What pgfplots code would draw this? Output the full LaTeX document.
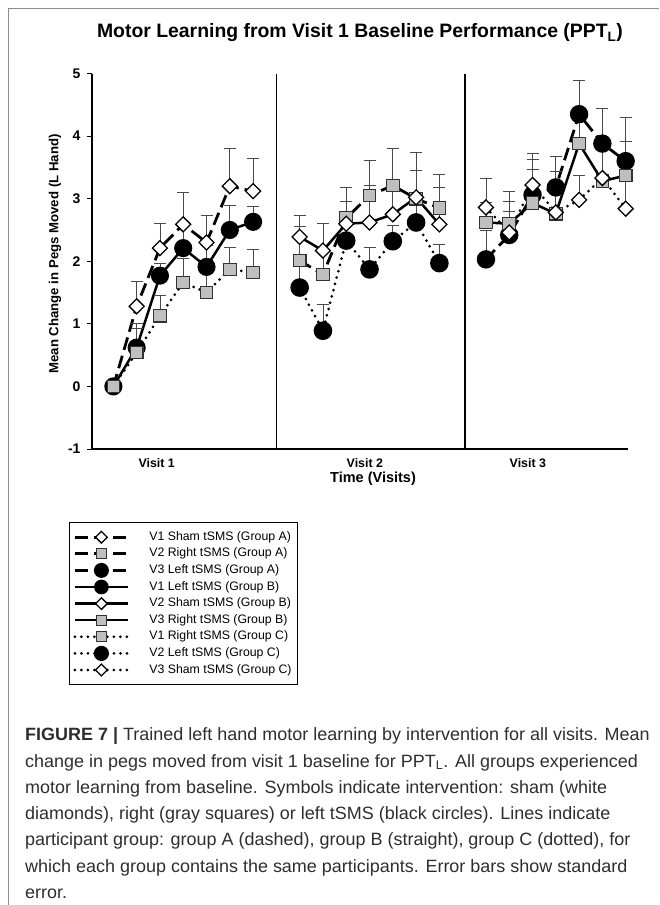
\documentclass[border=0pt]{standalone}
\usepackage{fontspec}
\setmainfont{Liberation Sans}
\usepackage{pgfplots}
\pgfplotsset{compat=1.18}
\definecolor{sq}{HTML}{BFBFBF}
\definecolor{eb}{HTML}{4A4A4A}
\begin{document}
\begin{tikzpicture}
\path[use as bounding box] (0pt,0pt) rectangle (659pt,-905pt);
\draw[black!45, line width=1pt] (8pt,-905pt) -- (8pt,-8pt) -- (659pt,-8pt);
\begin{axis}[
  at={(92pt,-449pt)}, anchor=south west,
  scale only axis, width=536pt, height=375.5pt,
  xmin=-0.918, xmax=22.1, ymin=-1, ymax=5,
  axis x line=bottom, axis y line=left,
  axis line style={-, line width=2.2pt},
  ytick={-1,0,1,2,3,4,5},
  xtick={1.86,10.8,17.8},
  xticklabels={Visit 1,Visit 2,Visit 3},
  xtick style={draw=none},
  ytick style={line width=0.9pt, black},
  tick align=outside, major tick length=5pt,
  /pgf/number format/assume math mode=true,
  yticklabel style={font=\fontsize{14}{16}\selectfont\bfseries, xshift=-3pt},
  xticklabel style={font=\fontsize{12.4}{14}\selectfont\bfseries, yshift=-1pt},
  clip=false,
  error bars/y dir=plus, error bars/y explicit,
  error bars/error bar style={line width=0.8pt, draw=eb, solid},
  error bars/error mark options={rotate=90, mark size=6pt, line width=0.8pt, draw=eb, solid},
  legend style={at={(-0.0429,-0.1944)}, anchor=north west, draw=black, line width=0.8pt,
    font=\fontsize{12.3}{14}\selectfont, inner xsep=4pt, inner ysep=6.5pt,
    nodes={inner ysep=2.3pt, text height=9pt, text depth=3pt},
    column sep=18pt},
  legend cell align=left,
  legend image code/.code={\draw[mark repeat=2,mark phase=2,#1, every mark/.append style={scale=0.78}] plot coordinates {(0pt,0pt)(26.5pt,0pt)(53pt,0pt)};},
  dashA/.style={black, line width=2.8pt, dash pattern=on 13pt off 6pt},
  solB/.style={black, line width=2.5pt},
  dotC/.style={black, line width=3pt, line cap=round, dash pattern=on 0pt off 6.5pt},
  mdia/.style={mark=square*, mark options={solid, rotate=45, fill=white, draw=black, line width=1.3pt}, mark size=5.3pt},
  msq/.style={mark=square*, mark options={solid, fill=sq, draw=black!80, line width=1.1pt}, mark size=6.3pt},
  mcir/.style={mark=*, mark options={solid, fill=black, draw=black}, mark size=7.8pt},
]
% separators
\addplot[black, line width=1.2pt, forget plot, no markers] coordinates {(7,-1) (7,5)};
\addplot[black, line width=1.2pt, forget plot, no markers] coordinates {(15.1,-1) (15.1,5)};

% Visit 1: Group A dashed, sham (diamonds)
\addplot[dashA, mdia] coordinates {
 (0,0) +- (0,0)
 (1,1.28) +- (0,0.40)
 (2,2.21) +- (0,0.40)
 (3,2.59) +- (0,0.51)
 (4,2.30) +- (0,0.44)
 (5,3.20) +- (0,0.61)
 (6,3.12) +- (0,0.52)
};
\addlegendentry{V1 Sham tSMS (Group A)}
% Visit 2: Group A dashed, right (squares)
\addplot[dashA, msq] coordinates {
 (8,2.01) +- (0,0.55)
 (9,1.79) +- (0,0.40)
 (10,2.69) +- (0,0.49)
 (11,3.05) +- (0,0.56)
 (12,3.21) +- (0,0.59)
 (13,3.00) +- (0,0.74)
 (14,2.85) +- (0,0.54)
};
\addlegendentry{V2 Right tSMS (Group A)}
% Visit 3: Group A dashed, left (circles)
\addplot[dashA, mcir] coordinates {
 (16,2.03) +- (0,0.46)
 (17,2.42) +- (0,0.37)
 (18,3.06) +- (0,0.56)
 (19,3.18) +- (0,0.49)
 (20,4.35) +- (0,0.54)
 (21,3.88) +- (0,0.57)
 (22,3.60) +- (0,0.70)
};
\addlegendentry{V3 Left tSMS (Group A)}
% Visit 1: Group B solid, left (circles)
\addplot[solB, mcir] coordinates {
 (0,0) +- (0,0)
 (1,0.62) +- (0,0.38)
 (2,1.77) +- (0,0.20)
 (3,2.21) +- (0,0.35)
 (4,1.91) +- (0,0.35)
 (5,2.50) +- (0,0.40)
 (6,2.63) +- (0,0.24)
};
\addlegendentry{V1 Left tSMS (Group B)}
% Visit 2: Group B solid, sham (diamonds)
\addplot[solB, mdia] coordinates {
 (8,2.39) +- (0,0.35)
 (9,2.17) +- (0,0.43)
 (10,2.60) +- (0,0.35)
 (11,2.62) +- (0,0.59)
 (12,2.75) +- (0,0.45)
 (13,3.02) +- (0,0.43)
 (14,2.59) +- (0,0.59)
};
\addlegendentry{V2 Sham tSMS (Group B)}
% Visit 3: Group B solid, right (squares)
\addplot[solB, msq] coordinates {
 (16,2.62) +- (0,0.32)
 (17,2.60) +- (0,0.35)
 (18,2.93) +- (0,0.54)
 (19,2.76) +- (0,0.67)
 (20,3.88) +- (0,0.40)
 (21,3.28) +- (0,0.50)
 (22,3.37) +- (0,0.55)
};
\addlegendentry{V3 Right tSMS (Group B)}
% Visit 1: Group C dotted, right (squares)
\addplot[dotC, msq] coordinates {
 (0,0) +- (0,0)
 (1,0.54) +- (0,0.38)
 (2,1.13) +- (0,0.32)
 (3,1.66) +- (0,0.39)
 (4,1.50) +- (0,0.30)
 (5,1.87) +- (0,0.35)
 (6,1.82) +- (0,0.37)
};
\addlegendentry{V1 Right tSMS (Group C)}
% Visit 2: Group C dotted, left (circles)
\addplot[dotC, mcir] coordinates {
 (8,1.58) +- (0,0.50)
 (9,0.89) +- (0,0.42)
 (10,2.33) +- (0,0.40)
 (11,1.87) +- (0,0.35)
 (12,2.32) +- (0,0.25)
 (13,2.62) +- (0,0.35)
 (14,1.97) +- (0,0.30)
};
\addlegendentry{V2 Left tSMS (Group C)}
% Visit 3: Group C dotted, sham (diamonds)
\addplot[dotC, mdia] coordinates {
 (16,2.86) +- (0,0.47)
 (17,2.46) +- (0,0.65)
 (18,3.22) +- (0,0.50)
 (19,2.78) +- (0,0.40)
 (20,2.98) +- (0,0.39)
 (21,3.33) +- (0,0.50)
 (22,2.84) +- (0,0.50)
};
\addlegendentry{V3 Sham tSMS (Group C)}
\end{axis}
% title and labels
\node[font=\fontsize{19.4}{22}\selectfont\bfseries] at (360pt,-33pt) {Motor Learning from Visit 1 Baseline Performance (PPT\textsubscript{L})};
\node[font=\fontsize{13.2}{15}\selectfont\bfseries, rotate=90] at (55pt,-254pt) {Mean Change in Pegs Moved (L Hand)};
\node[font=\fontsize{14.5}{17}\selectfont\bfseries] at (373pt,-479pt) {Time (Visits)};
% caption
\node[anchor=base west, align=left, inner sep=0pt, text=black!82,
  font=\addfontfeature{FakeStretch=1.01}\fontsize{17.8}{26.3}\selectfont] at (25pt,-898.5pt)
{\textbf{FIGURE 7 |} Trained left hand motor learning by intervention for all visits. Mean\\
change in pegs moved from visit 1 baseline for PPT\textsubscript{L}. All groups experienced\\
motor learning from baseline. Symbols indicate intervention: sham (white\\
diamonds), right (gray squares) or left tSMS (black circles). Lines indicate\\
participant group: group A (dashed), group B (straight), group C (dotted), for\\
which each group contains the same participants. Error bars show standard\\
error.};
\end{tikzpicture}
\end{document}
